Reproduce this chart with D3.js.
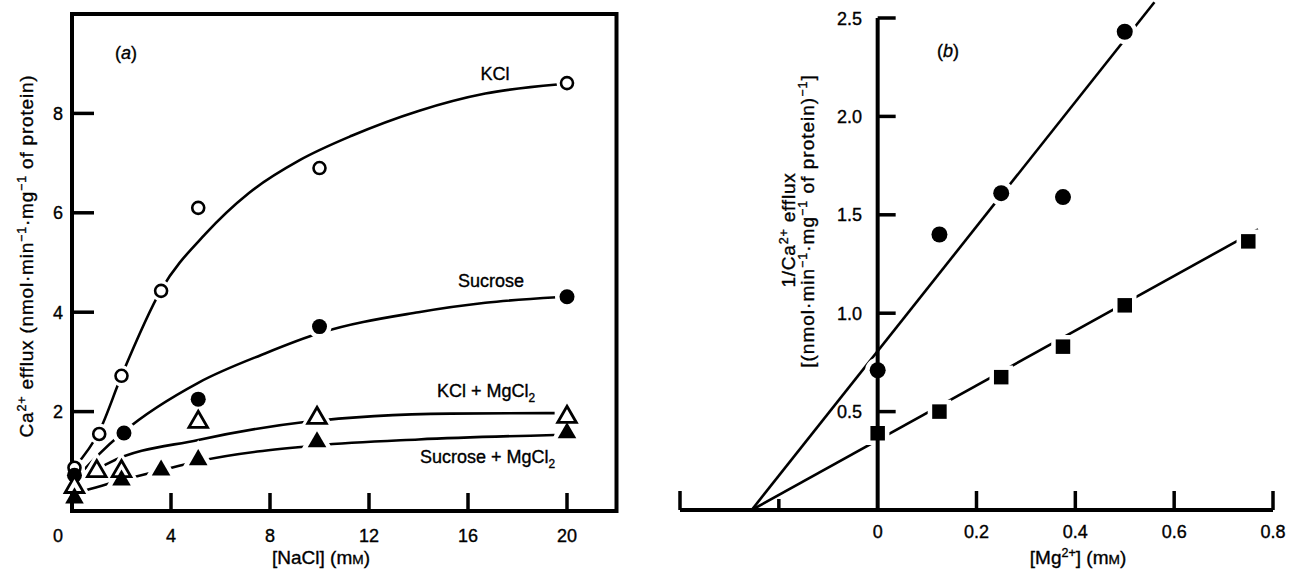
<!DOCTYPE html>
<html><head><meta charset="utf-8">
<script src="https://cdn.jsdelivr.net/npm/d3@7"></script>
<style>
body{margin:0;background:#fff}
svg{display:block}
text{font-family:"Liberation Sans",Arial,Helvetica,sans-serif;fill:#000;stroke:#000;stroke-width:0.35px}
</style>
</head><body>
<svg id="c" width="1294" height="571"></svg>
<script>
// ---------- Panel (a) data : Ca2+ efflux vs [NaCl] ----------
const kclX = [0.1, 1.1, 2.0, 3.6, 5.1, 10, 20];
const kclY = [0.87, 1.55, 2.72, 4.43, 6.1, 6.9, 8.61];
const sucX = [0.1, 2.1, 5.1, 10, 20];
const sucY = [0.72, 1.57, 2.25, 3.71, 4.31];
const kmgX = [0.1, 1.0, 2.0, 5.1, 9.9, 20];
const kmgY = [0.48, 0.8, 0.8, 1.79, 1.87, 1.89];
const smgX = [0.1, 2.0, 3.6, 5.1, 9.9, 20];
const smgY = [0.26, 0.62, 0.82, 1.03, 1.39, 1.57];
// fitted curves
const kclCurveX = [0.1, 1.1, 2.0, 3.6, 5.4, 7.15, 9.2, 11.3, 14, 16.7, 19.6];
const kclCurveY = [0.88, 1.6, 2.72, 4.45, 5.58, 6.4, 7.06, 7.55, 8.05, 8.4, 8.58];
const sucCurveX = [0.1, 1.0, 2.1, 5.1, 7.8, 10, 14, 16.7, 19.6];
const sucCurveY = [0.62, 1.1, 1.6, 2.58, 3.17, 3.58, 4.0, 4.19, 4.3];
const kmgCurveX = [0.1, 1.5, 5.1, 9.4, 15.3, 19.5];
const kmgCurveY = [0.55, 0.97, 1.43, 1.79, 1.96, 1.97];
const smgCurveX = [0.1, 2.0, 3.6, 5.1, 9.9, 14, 19.5];
const smgCurveY = [0.35, 0.62, 0.82, 1.0, 1.32, 1.44, 1.53];
const aXTicks = [0, 4, 8, 12, 16, 20];
const aYTicks = [2, 4, 6, 8];

// ---------- Panel (b) data : 1/Ca2+ efflux vs [Mg2+] ----------
const circX = [0, 0.125, 0.25, 0.375, 0.5];
const circY = [0.71, 1.40, 1.61, 1.59, 2.43];
const sqX = [0, 0.125, 0.25, 0.375, 0.5, 0.75];
const sqY = [0.39, 0.50, 0.675, 0.83, 1.04, 1.365];
const circLineX = [-0.255, 0.56];
const circLineY = [0, 2.58];
const sqLineX = [-0.255, 0.77];
const sqLineY = [0, 1.426];
const bXTicks = [-0.4, -0.2, 0, 0.2, 0.4, 0.6, 0.8];
const bXLabels = ["", "", "0", "0.2", "0.4", "0.6", "0.8"];
const bYTicks = [0.5, 1.0, 1.5, 2.0, 2.5];
const bYLabels = ["0.5", "1.0", "1.5", "2.0", "2.5"];

const svg = d3.select("#c");
const zip = (xs, ys) => xs.map((x, i) => [x, ys[i]]);

// scales
const xa = d3.scaleLinear().domain([0, 20]).range([72, 567]);
const ya = d3.scaleLinear().domain([0, 10]).range([511, 14]);
const xb = d3.scaleLinear().domain([-0.4, 0.8]).range([680, 1273]);
const yb = d3.scaleLinear().domain([0, 2.5]).range([510, 18]);

// rich text: segments with optional sup / sub / small-cap, no empty tspans
function richText(sel, segs, size) {
  let pending = 0;
  segs.forEach(s => {
    const ts = sel.append("tspan").text(s.t);
    let shift = 0, fs = size;
    if (s.sup) { shift = -size * 0.38; fs = size * 0.66; }
    else if (s.sub) { shift = size * 0.25; fs = size * 0.66; }
    else if (s.sc) { fs = size * 0.72; }
    ts.attr("font-size", fs);
    const dy = pending + shift;
    if (dy !== 0) ts.attr("dy", dy);
    pending = -shift;
  });
}

const circleSym = r => d3.symbol().type(d3.symbolCircle).size(Math.PI * r * r)();
const triSym = d3.symbol().type(d3.symbolTriangle).size(150)();
const sqSym = d3.symbol().type(d3.symbolSquare).size(210)();

// ================= PANEL A =================
const ga = svg.append("g");
const curveGen = d3.line().x(d => xa(d[0])).y(d => ya(d[1])).curve(d3.curveMonotoneX);
[[kclCurveX, kclCurveY], [sucCurveX, sucCurveY], [kmgCurveX, kmgCurveY], [smgCurveX, smgCurveY]].forEach(([cx, cy]) => {
  ga.append("path").attr("d", curveGen(zip(cx, cy))).attr("fill", "none")
    .attr("stroke", "#000").attr("stroke-width", 2.6);
});
const aSeries = [
  {x: kclX, y: kclY, d: circleSym(6), fill: "#fff", sw: 2.6},
  {x: sucX, y: sucY, d: circleSym(7.5), fill: "#000", sw: 0},
  {x: kmgX, y: kmgY, d: triSym, fill: "#fff", sw: 2.8},
  {x: smgX, y: smgY, d: triSym, fill: "#000", sw: 0}
];
// halos (gaps in lines)
aSeries.forEach(s => {
  ga.selectAll(null).data(zip(s.x, s.y)).enter().append("path")
    .attr("d", s.d).attr("transform", d => `translate(${xa(d[0])},${ya(d[1])})`)
    .attr("fill", "#fff").attr("stroke", "#fff").attr("stroke-width", 9);
});
// frame
ga.append("rect").attr("x", xa(0)).attr("y", ya(10)).attr("width", xa(22) - xa(0)).attr("height", ya(0) - ya(10))
  .attr("fill", "none").attr("stroke", "#000").attr("stroke-width", 4);
// ticks
ga.selectAll(null).data(aXTicks.filter(t => t > 0)).enter().append("line")
  .attr("x1", d => xa(d)).attr("x2", d => xa(d)).attr("y1", ya(0)).attr("y2", ya(0) - 18)
  .attr("stroke", "#000").attr("stroke-width", 3.5);
ga.selectAll(null).data(aYTicks).enter().append("line")
  .attr("x1", xa(0)).attr("x2", xa(0) + 22).attr("y1", d => ya(d)).attr("y2", d => ya(d))
  .attr("stroke", "#000").attr("stroke-width", 3.5);
ga.selectAll(null).data(aXTicks).enter().append("text")
  .attr("x", d => d === 0 ? xa(d) - 14 : xa(d)).attr("y", 542).attr("text-anchor", "middle")
  .attr("font-size", 18).text(d => d);
ga.selectAll(null).data(aYTicks).enter().append("text")
  .attr("x", 63).attr("y", d => ya(d) + 6.5).attr("text-anchor", "end")
  .attr("font-size", 18).text(d => d);
// markers
aSeries.forEach(s => {
  ga.selectAll(null).data(zip(s.x, s.y)).enter().append("path")
    .attr("d", s.d).attr("transform", d => `translate(${xa(d[0])},${ya(d[1])})`)
    .attr("fill", s.fill).attr("stroke", "#000").attr("stroke-width", s.sw);
});
// labels
ga.append("text").attr("x", 115).attr("y", 59).attr("font-size", 18)
  .call(t => { t.append("tspan").text("("); t.append("tspan").attr("font-style", "italic").text("a"); t.append("tspan").text(")"); });
ga.append("text").attr("x", 495).attr("y", 80).attr("text-anchor", "middle").attr("font-size", 18).text("KCl");
ga.append("text").attr("x", 491).attr("y", 287).attr("text-anchor", "middle").attr("font-size", 18).text("Sucrose");
ga.append("text").attr("x", 437).attr("y", 397).attr("font-size", 18).call(t => richText(t, [{t: "KCl + MgCl"}, {t: "2", sub: true}], 18));
ga.append("text").attr("x", 420).attr("y", 463).attr("font-size", 18).call(t => richText(t, [{t: "Sucrose + MgCl"}, {t: "2", sub: true}], 18));
// axis titles
ga.append("text").attr("x", 321).attr("y", 564).attr("text-anchor", "middle").attr("font-size", 19)
  .call(t => richText(t, [{t: "[NaCl] (m"}, {t: "M", sc: true}, {t: ")"}], 19));
ga.append("text").attr("transform", "translate(33,256) rotate(-90)").attr("text-anchor", "middle").attr("font-size", 19)
  .attr("letter-spacing", 0.8)
  .call(t => richText(t, [{t: "Ca"}, {t: "2+", sup: true}, {t: " efflux (nmol\u00B7min"}, {t: "\u22121", sup: true},
    {t: "\u00B7mg"}, {t: "\u22121", sup: true}, {t: " of protein)"}], 19));

// ================= PANEL B =================
const gb = svg.append("g");
const lineB = d3.line().x(d => xb(d[0])).y(d => yb(d[1]));
[[circLineX, circLineY], [sqLineX, sqLineY]].forEach(([lx, ly]) => {
  gb.append("path").attr("d", lineB(zip(lx, ly))).attr("fill", "none").attr("stroke", "#000").attr("stroke-width", 2.6);
});
const bSeries = [
  {x: circX, y: circY, d: circleSym(8)},
  {x: sqX, y: sqY, d: sqSym}
];
bSeries.forEach(s => {
  gb.selectAll(null).data(zip(s.x, s.y)).enter().append("path")
    .attr("d", s.d).attr("transform", d => `translate(${xb(d[0])},${yb(d[1])})`)
    .attr("fill", "#fff").attr("stroke", "#fff").attr("stroke-width", 9);
});
// axes
gb.append("line").attr("x1", xb(-0.4)).attr("x2", xb(0.8)).attr("y1", yb(0)).attr("y2", yb(0))
  .attr("stroke", "#000").attr("stroke-width", 4);
gb.append("line").attr("x1", xb(0)).attr("x2", xb(0)).attr("y1", yb(0)).attr("y2", yb(2.5))
  .attr("stroke", "#000").attr("stroke-width", 4);
gb.selectAll(null).data(bXTicks.filter(t => t !== 0)).enter().append("line")
  .attr("x1", d => xb(d)).attr("x2", d => xb(d)).attr("y1", yb(0))
  .attr("y2", d => yb(0) - (Math.abs(d + 0.2) < 1e-9 ? 11 : 19))
  .attr("stroke", "#000").attr("stroke-width", 3.5);
gb.selectAll(null).data(bYTicks).enter().append("line")
  .attr("x1", xb(0)).attr("x2", xb(0) + 18).attr("y1", d => yb(d)).attr("y2", d => yb(d))
  .attr("stroke", "#000").attr("stroke-width", 3.5);
gb.selectAll(null).data(bXTicks.filter((d, i) => bXLabels[i] !== "")).enter().append("text")
  .attr("x", d => xb(d)).attr("y", 538).attr("text-anchor", "middle").attr("font-size", 18)
  .text(d => bXLabels[bXTicks.indexOf(d)]);
gb.selectAll(null).data(bYTicks).enter().append("text")
  .attr("x", 862).attr("y", d => yb(d) + 6.5).attr("text-anchor", "end").attr("font-size", 18)
  .text((d, i) => bYLabels[i]);
bSeries.forEach(s => {
  gb.selectAll(null).data(zip(s.x, s.y)).enter().append("path")
    .attr("d", s.d).attr("transform", d => `translate(${xb(d[0])},${yb(d[1])})`)
    .attr("fill", "#000");
});
gb.append("text").attr("x", 937).attr("y", 57).attr("font-size", 18)
  .call(t => { t.append("tspan").text("("); t.append("tspan").attr("font-style", "italic").text("b"); t.append("tspan").text(")"); });
gb.append("text").attr("x", 1078).attr("y", 564).attr("text-anchor", "middle").attr("font-size", 19)
  .call(t => richText(t, [{t: "[Mg"}, {t: "2+", sup: true}, {t: "] (m"}, {t: "M", sc: true}, {t: ")"}], 19));
gb.append("text").attr("transform", "translate(795,230) rotate(-90)").attr("text-anchor", "middle").attr("font-size", 19)
  .attr("letter-spacing", 0.8)
  .call(t => richText(t, [{t: "1/Ca"}, {t: "2+", sup: true}, {t: " efflux"}], 19));
gb.append("text").attr("transform", "translate(814,221) rotate(-90)").attr("text-anchor", "middle").attr("font-size", 19)
  .attr("letter-spacing", 1)
  .call(t => richText(t, [{t: "[(nmol\u00B7min"}, {t: "\u22121", sup: true}, {t: "\u00B7mg"}, {t: "\u22121", sup: true},
    {t: " of protein)"}, {t: "\u22121", sup: true}, {t: "]"}], 19));
</script>
</body></html>
